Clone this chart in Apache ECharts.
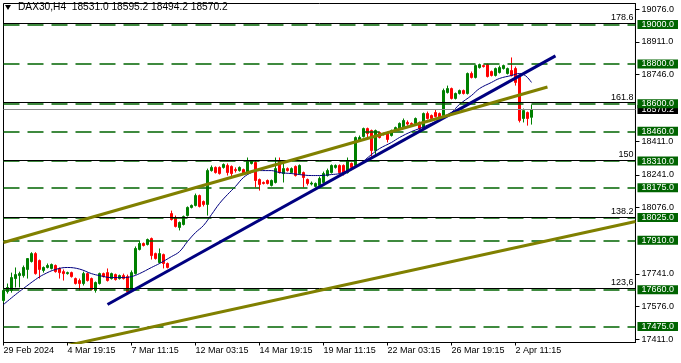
<!DOCTYPE html>
<html><head><meta charset="utf-8">
<script src="https://cdn.jsdelivr.net/npm/echarts@6/dist/echarts.min.js"></script>
<style>html,body{margin:0;padding:0;background:#fff}#c{width:681px;height:363px}</style>
</head><body><div id="c"></div>
<script>
// ---------- data ----------
const header = 'DAX30,H4  18531.0 18595.2 18494.2 18570.2';
const tickLabels = ['29 Feb 2024','4 Mar 19:15','7 Mar 11:15','12 Mar 03:15','14 Mar 19:15','19 Mar 11:15','22 Mar 03:15','26 Mar 19:15','2 Apr 11:15'];
const tickStep = 16;
const slotCount = 159;

const opens = [17606,17651,17657,17717,17732,17732,17763,17803,17843,17808,
17758,17773,17768,17783,17768,17752,17742,17747,17717,17707,
17692,17742,17717,17657,17692,17742,17747,17717,17737,17717,
17732,17727,17657,17742,17864,17894,17889,17919,17843,17798,
17838,17793,18045,18025,17975,17990,18035,18076,18086,18136,
18106,18091,18262,18278,18278,18278,18288,18283,18267,18262,
18267,18247,18298,18303,18217,18202,18212,18187,18202,18313,
18247,18272,18252,18283,18247,18252,18217,18194,18182,18187,
18202,18237,18252,18278,18288,18288,18252,18298,18288,18414,
18434,18474,18464,18363,18454,18449,18449,18439,18464,18474,
18479,18505,18500,18500,18505,18479,18550,18540,18555,18550,
18540,18656,18676,18626,18651,18666,18651,18752,18732,18782,
18792,18797,18762,18742,18757,18777,18752,18767,18777,18742,
18525,18555,18531.0];
const closes = [17657,17672,17722,17737,17742,17773,17818,17843,17742,17763,
17773,17783,17788,17752,17747,17742,17747,17727,17692,17692,
17742,17707,17662,17697,17742,17727,17707,17742,17712,17732,
17717,17651,17747,17869,17894,17884,17914,17833,17818,17843,
17793,17773,18015,17980,18000,18030,18076,18086,18136,18081,
18091,18262,18278,18252,18247,18293,18252,18247,18262,18278,
18247,18308,18308,18212,18192,18197,18197,18212,18272,18252,
18272,18262,18272,18237,18288,18227,18197,18199,18197,18222,
18247,18262,18288,18288,18252,18247,18313,18278,18429,18429,
18474,18449,18363,18464,18429,18444,18419,18464,18479,18500,
18515,18497,18494,18525,18474,18550,18525,18525,18535,18530,
18666,18676,18626,18651,18666,18651,18752,18732,18792,18797,
18787,18737,18742,18777,18782,18792,18777,18742,18707,18515,
18565,18525,18570.2];
const lows = [17596,17641,17646,17672,17672,17722,17717,17798,17737,17717,
17747,17768,17763,17747,17717,17707,17737,17722,17687,17657,
17682,17702,17657,17646,17687,17722,17702,17712,17707,17712,
17712,17646,17651,17737,17859,17879,17884,17813,17813,17793,
17768,17768,18010,17975,17960,17985,18030,18071,18081,18076,
18081,18035,18257,18247,18242,18272,18237,18232,18252,18257,
18242,18242,18293,18177,18161,18192,18192,18182,18197,18247,
18202,18257,18247,18232,18242,18177,18187,18187,18177,18177,
18197,18232,18247,18272,18247,18237,18247,18272,18283,18409,
18429,18424,18333,18333,18424,18439,18404,18434,18459,18469,
18474,18489,18489,18494,18464,18474,18520,18520,18530,18525,
18530,18651,18621,18621,18646,18646,18646,18727,18727,18777,
18782,18732,18737,18737,18752,18772,18747,18737,18691,18505,
18505,18489,18494.2];
const highs = [17667,17692,17747,17773,17752,17783,17820,17850,17850,17813,
17778,17793,17793,17788,17773,17763,17752,17752,17722,17717,
17752,17747,17722,17702,17747,17747,17768,17747,17742,17737,
17742,17737,17758,17879,17909,17899,17919,17924,17848,17869,
17843,17798,18060,18035,18005,18035,18081,18091,18146,18141,
18111,18272,18288,18283,18283,18298,18298,18288,18278,18283,
18272,18328,18313,18313,18222,18207,18217,18217,18328,18328,
18313,18278,18278,18288,18293,18257,18222,18207,18202,18232,
18257,18272,18293,18293,18293,18293,18328,18303,18434,18439,
18479,18479,18469,18469,18459,18454,18454,18469,18484,18505,
18525,18515,18505,18530,18510,18555,18560,18545,18570,18555,
18676,18691,18681,18656,18671,18671,18757,18762,18797,18802,
18797,18802,18767,18782,18792,18797,18782,18833,18787,18747,
18575,18560,18595.2];

const maIdx = [0,3,5,8,10,13,16,19,22,24,27,30,32,34,37,39,42,44,46,48,50,52,54,56,58,60,62,64,67,69,72,74,77,79,82,84,87,89,92,94,97,99,102,104,107,109,112,114,117,119,122,124,127,129,130,131,132];
const maVal = [17586,17636,17667,17712,17737,17763,17773,17765,17742,17732,17722,17722,17727,17742,17773,17793,17828,17853,17904,17949,17985,18040,18096,18141,18182,18227,18252,18262,18262,18252,18247,18242,18237,18237,18242,18247,18267,18293,18343,18373,18404,18429,18459,18474,18500,18515,18555,18596,18641,18676,18707,18727,18742,18752,18747,18732,18707];

const levelPrices = [19000,18800,18600,18460,18310,18175,18025,17910,17660,17475];
const fibRatios = ['123,6','138.2','150','161.8','178.6'];
const fibPrices = [17668,18026,18314,18605,19006];
const plainTicks = [19076,18911,18746,18411,18241,18076,17741,17576,17411];
const lastPrice = 18570.2;

const navyTrend = [[26,17586],[138,18841]];
const oliveUpper = [[0,17899],[136,18684]];
const oliveLower = [[15,17375],[158,18005]];

// ---------- chart ----------
const FONT = '"Liberation Sans", Arial, sans-serif';
const chart = echarts.init(document.getElementById('c'), null, {renderer:'canvas'});
const cats = Array.from({length:slotCount}, (_, i) => String(i));
const candles = opens.map((o, i) => [o, closes[i], lows[i], highs[i]]);
const isTick = i => i % tickStep === 0 && i / tickStep < tickLabels.length;
const near = (a, b) => Math.abs(a - b) < 0.05;

const option = {
  animation: false,
  backgroundColor: '#fff',
  grid: {left: 3.5, right: 45.5, top: 3.5, bottom: 20.5, show: true, borderColor: '#000', borderWidth: 1, containLabel: false},
  xAxis: {
    type: 'category', data: cats, boundaryGap: false,
    axisLine: {show: true, lineStyle: {color: '#000', width: 1}},
    axisTick: {show: true, interval: (i) => isTick(i), length: 3, lineStyle: {color: '#000'}},
    axisLabel: {interval: (i) => isTick(i), formatter: (v, i) => tickLabels[i / tickStep] || '',
      align: 'left', margin: 4, fontSize: 9, fontFamily: FONT, color: '#000'},
    splitLine: {show: false}
  },
  yAxis: {
    type: 'value', position: 'right', min: 17394.3, max: 19105.4,
    axisLine: {show: true, lineStyle: {color: '#000'}},
    axisTick: {show: true, customValues: plainTicks, length: 4, lineStyle: {color: '#000'}},
    axisLabel: {
      customValues: [lastPrice].concat(plainTicks, levelPrices),
      margin: 2, fontSize: 9, fontFamily: FONT, color: '#000',
      formatter: (v) => {
        const t = Number(v).toFixed(1);
        if (near(v, lastPrice)) return '{k|' + t + '}';
        if (levelPrices.some(p => near(p, v))) return '{g|' + t + '}';
        return '{p|' + t + '}';
      },
      rich: {
        p: {fontSize: 9, fontFamily: FONT, color: '#000', padding: [0, 4, 0, 4], lineHeight: 9},
        g: {fontSize: 9, fontFamily: FONT, color: '#fff', backgroundColor: '#006400', padding: [0, 4, 0, 4], lineHeight: 9},
        k: {fontSize: 9, fontFamily: FONT, color: '#fff', backgroundColor: '#000', padding: [0, 4, 0, 4], lineHeight: 9}
      }
    },
    splitLine: {show: false}
  },
  graphic: [
    {type: 'polygon', shape: {points: [[5, 5], [11, 5], [8, 10]]}, style: {fill: '#000'}},
    {type: 'text', x: 18, y: 7.5, style: {text: header, fontSize: 10.2, fontFamily: FONT, fill: '#000', verticalAlign: 'middle'}}
  ],
  series: [
    {type: 'line', name: 'levels', data: [], z: 1, silent: true,
      markLine: {silent: true, symbol: ['none', 'none'], label: {show: false}, animation: false,
        lineStyle: {color: '#006400', type: [16, 8], width: 1.5},
        data: levelPrices.map(v => ({yAxis: v}))}},
    {type: 'line', name: 'bid', data: [], z: 1, silent: true,
      markLine: {silent: true, symbol: ['none', 'none'], label: {show: false}, animation: false,
        lineStyle: {color: '#8c8c8c', type: 'solid', width: 1},
        data: [{yAxis: lastPrice}]}},
    {type: 'line', name: 'fibo', data: [], z: 2, silent: true,
      markLine: {silent: true, symbol: ['none', 'none'], animation: false,
        label: {show: true, position: 'insideEndTop', color: '#000', fontSize: 9, fontFamily: FONT, distance: [2, 1]},
        lineStyle: {color: '#000', type: 'solid', width: 1},
        data: fibPrices.map((v, i) => ({yAxis: v, label: {formatter: fibRatios[i]}}))}},
    {type: 'candlestick', name: 'DAX30', data: candles, z: 3, barWidth: 2,
      itemStyle: {color: '#008000', color0: '#ff0000', borderColor: '#008000', borderColor0: '#ff0000', borderWidth: 1}},
    {type: 'line', name: 'MA', data: maIdx.map((x, i) => [x, maVal[i]]), z: 4, symbol: 'none', smooth: 0.4, clip: true,
      lineStyle: {color: '#000080', width: 1}},
    {type: 'line', name: 'trend1', data: navyTrend, z: 5, symbol: 'none', clip: true, lineStyle: {color: '#000080', width: 3}},
    {type: 'line', name: 'trend2', data: oliveUpper, z: 5, symbol: 'none', clip: true, lineStyle: {color: '#808000', width: 3}},
    {type: 'line', name: 'trend3', data: oliveLower, z: 5, symbol: 'none', clip: true, lineStyle: {color: '#808000', width: 3}}
  ]
};
chart.setOption(option);
</script></body></html>
